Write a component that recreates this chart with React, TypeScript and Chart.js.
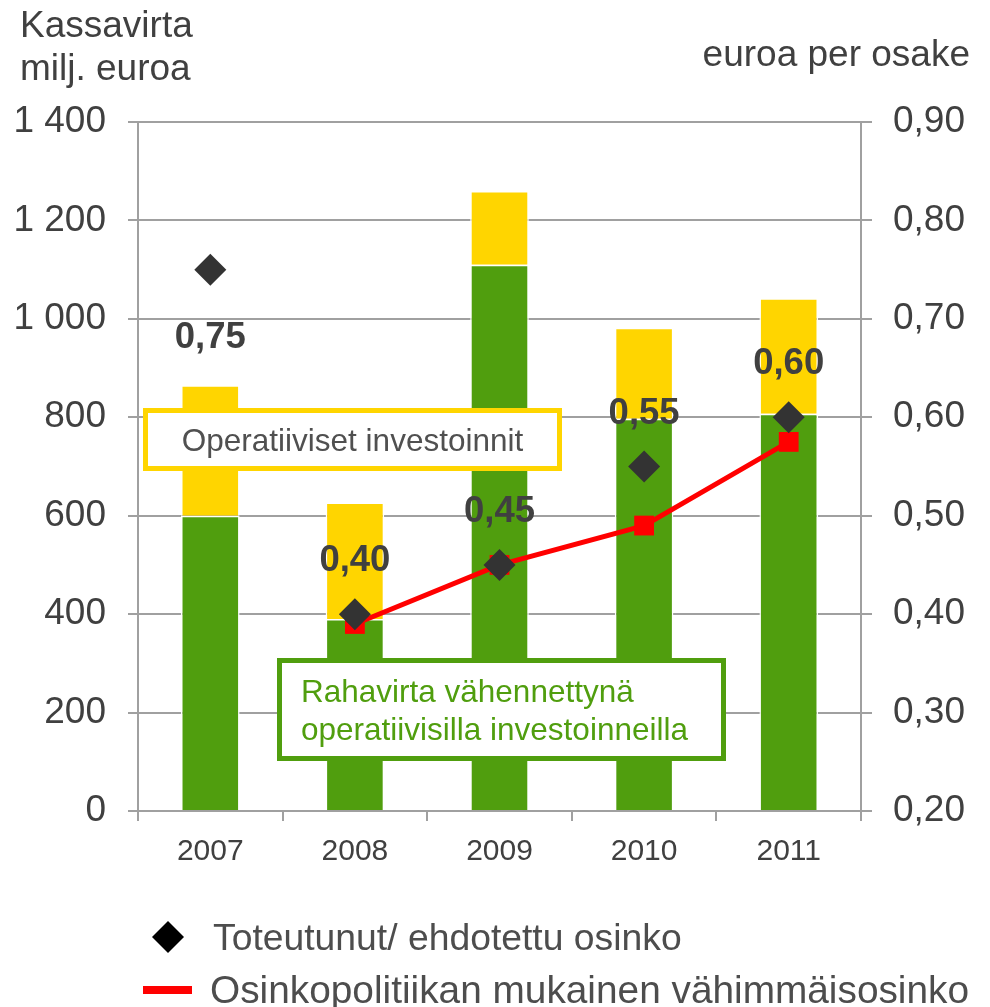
import React, { useEffect, useRef } from "react";
import { Chart, registerables } from "chart.js";

Chart.register(...registerables);

// ---- data ----
const categories = ["2007", "2008", "2009", "2010", "2011"];
const cashFlowAfterInvestments = [600, 390, 1110, 797, 807]; // green
const operativeInvestments = [265, 237, 150, 185, 235]; // yellow (stacked on top)
const actualDividend = [0.75, 0.4, 0.45, 0.55, 0.6];
const minimumDividend = [null, 0.39, 0.45, 0.49, 0.575];
const dividendLabels = ["0,75", "0,40", "0,45", "0,55", "0,60"];
const dividendLabelBelow = [true, false, false, false, false];

const leftMin = 0;
const leftMax = 1400;
const leftStep = 200;
const rightMin = 0.2;
const rightMax = 0.9;
const rightStep = 0.1;

const titleLeft = ["Kassavirta", "milj. euroa"];
const titleRight = "euroa per osake";
const boxYellowText = "Operatiiviset investoinnit";
const boxGreenText = ["Rahavirta vähennettynä", "operatiivisilla investoinneilla"];
const legendDiamondText = "Toteutunut/ ehdotettu osinko";
const legendLineText = "Osinkopolitiikan mukainen vähimmäisosinko";

// ---- styles ----
const FONT = '"Liberation Sans", Arial, sans-serif';
const GREEN = "#509E0E";
const YELLOW = "#FFD500";
const RED = "#FF0000";
const DIAMOND = "#333333";
const GRID = "#A0A0A0";
const TEXT = "#404040";

function fmtLeft(v: number): string {
  if (v >= 1000) {
    const th = Math.floor(v / 1000);
    const rest = String(Math.round(v % 1000)).padStart(3, "0");
    return `${th} ${rest}`;
  }
  return String(Math.round(v));
}
function fmtRight(v: number): string {
  return v.toFixed(2).replace(".", ",");
}

const overlayPlugin = {
  id: "overlay",
  afterDatasetsDraw(chart: any) {
    const ctx = chart.ctx as CanvasRenderingContext2D;
    ctx.save();

    // Yellow annotation box
    ctx.lineWidth = 5;
    ctx.strokeStyle = YELLOW;
    ctx.fillStyle = "#FFFFFF";
    ctx.fillRect(145.5, 410.5, 414, 58);
    ctx.strokeRect(145.5, 410.5, 414, 58);
    ctx.fillStyle = "#505050";
    ctx.font = `31.5px ${FONT}`;
    ctx.textAlign = "center";
    ctx.textBaseline = "alphabetic";
    ctx.fillText(boxYellowText, 352.5, 451);

    // Green annotation box
    ctx.strokeStyle = GREEN;
    ctx.fillStyle = "#FFFFFF";
    ctx.fillRect(279.5, 660.5, 444, 98);
    ctx.strokeRect(279.5, 660.5, 444, 98);
    ctx.fillStyle = GREEN;
    ctx.textAlign = "left";
    ctx.fillText(boxGreenText[0], 301, 702);
    ctx.fillText(boxGreenText[1], 301, 740);

    // dividend value labels
    const meta = chart.getDatasetMeta(0);
    ctx.font = `bold 36.5px ${FONT}`;
    ctx.fillStyle = TEXT;
    ctx.textAlign = "center";
    ctx.textBaseline = "middle";
    meta.data.forEach((pt: any, i: number) => {
      const dy = dividendLabelBelow[i] ? 68 : -53;
      ctx.fillText(dividendLabels[i], pt.x, pt.y + dy);
    });
    ctx.restore();
  },
  afterDraw(chart: any) {
    const ctx = chart.ctx as CanvasRenderingContext2D;
    ctx.save();
    ctx.fillStyle = TEXT;
    ctx.font = `37px ${FONT}`;
    ctx.textBaseline = "alphabetic";
    ctx.textAlign = "left";
    ctx.fillText(titleLeft[0], 20, 37);
    ctx.fillText(titleLeft[1], 20, 80);
    ctx.textAlign = "right";
    ctx.fillText(titleRight, 970, 66);

    // legend
    ctx.fillStyle = "#000000";
    ctx.beginPath();
    ctx.moveTo(168, 921);
    ctx.lineTo(184, 937);
    ctx.lineTo(168, 953);
    ctx.lineTo(152, 937);
    ctx.closePath();
    ctx.fill();
    ctx.fillStyle = RED;
    ctx.fillRect(143, 986, 49, 8);

    ctx.fillStyle = "#4D4D4D";
    ctx.textAlign = "left";
    ctx.font = `37.3px ${FONT}`;
    ctx.fillText(legendDiamondText, 213, 950);
    ctx.font = `38.8px ${FONT}`;
    ctx.fillText(legendLineText, 210, 1003);
    ctx.restore();
  },
};

export default function App() {
  const ref = useRef<HTMLCanvasElement | null>(null);

  useEffect(() => {
    if (!ref.current) return;
    const chart = new Chart(ref.current, {
      type: "bar",
      data: {
        labels: categories,
        datasets: [
          {
            type: "line",
            label: legendDiamondText,
            data: actualDividend,
            yAxisID: "y1",
            showLine: false,
            pointStyle: "rectRot",
            pointRadius: 16,
            pointHoverRadius: 16,
            pointBackgroundColor: DIAMOND,
            pointBorderColor: DIAMOND,
            pointBorderWidth: 0,
            backgroundColor: DIAMOND,
            borderColor: DIAMOND,
          } as any,
          {
            type: "line",
            label: legendLineText,
            data: minimumDividend,
            yAxisID: "y1",
            borderColor: RED,
            borderWidth: 5,
            pointStyle: "rect",
            pointRadius: 14,
            pointHoverRadius: 14,
            pointBackgroundColor: RED,
            pointBorderColor: RED,
            pointBorderWidth: 0,
            spanGaps: false,
            tension: 0,
          } as any,
          {
            type: "bar",
            label: "Rahavirta vähennettynä operatiivisilla investoinneilla",
            data: cashFlowAfterInvestments,
            yAxisID: "y",
            stack: "s",
            backgroundColor: GREEN,
            borderColor: "#FFFFFF",
            borderWidth: 1.5,
            borderSkipped: "bottom",
            barPercentage: 0.405,
            categoryPercentage: 1,
          } as any,
          {
            type: "bar",
            label: "Operatiiviset investoinnit",
            data: operativeInvestments,
            yAxisID: "y",
            stack: "s",
            backgroundColor: YELLOW,
            borderColor: "#FFFFFF",
            borderWidth: 1.5,
            borderSkipped: "bottom",
            barPercentage: 0.405,
            categoryPercentage: 1,
          } as any,
        ],
      },
      options: {
        responsive: false,
        maintainAspectRatio: false,
        animation: false,
        layout: { padding: { top: 122, left: 0, right: 0, bottom: 0 } },
        plugins: {
          legend: { display: false },
          tooltip: { enabled: false },
          title: { display: false },
        },
        scales: {
          x: {
            stacked: true,
            grid: {
              offset: true,
              drawOnChartArea: false,
              drawTicks: true,
              tickLength: 10,
              color: GRID,
              lineWidth: 2,
            },
            border: { display: true, color: GRID, width: 2 },
            ticks: {
              color: TEXT,
              font: { family: FONT, size: 30 },
              padding: 13,
              maxRotation: 0,
            },
            afterFit: (s: any) => {
              s.height = 196;
            },
          },
          y: {
            stacked: true,
            position: "left",
            min: leftMin,
            max: leftMax,
            grid: { color: GRID, lineWidth: 2, tickLength: 10 },
            border: { display: true, color: GRID, width: 2 },
            ticks: {
              stepSize: leftStep,
              color: TEXT,
              font: { family: FONT, size: 37 },
              padding: 22,
              callback: (v: any) => fmtLeft(Number(v)),
            },
            afterFit: (s: any) => {
              s.width = 138;
            },
          },
          y1: {
            position: "right",
            min: rightMin,
            max: rightMax,
            grid: {
              drawOnChartArea: false,
              color: GRID,
              lineWidth: 2,
              tickLength: 11,
            },
            border: { display: true, color: GRID, width: 2 },
            ticks: {
              stepSize: rightStep,
              color: TEXT,
              font: { family: FONT, size: 37 },
              padding: 21,
              callback: (v: any) => fmtRight(Number(v)),
            },
            afterFit: (s: any) => {
              s.width = 129;
            },
          },
        },
      },
      plugins: [overlayPlugin],
    });
    return () => chart.destroy();
  }, []);

  return (
    <div
      style={{
        position: "absolute",
        left: 0,
        top: 0,
        width: 990,
        height: 1007,
        background: "#FFFFFF",
      }}
    >
      <canvas ref={ref} width={990} height={1007} style={{ display: "block" }} />
    </div>
  );
}
